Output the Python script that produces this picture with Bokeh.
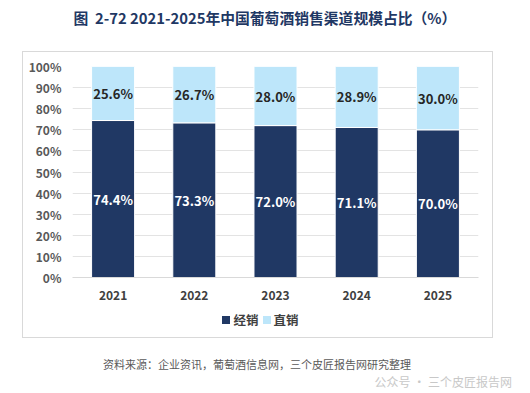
from bokeh.plotting import figure
from bokeh.models import (ColumnDataSource, FactorRange, NumeralTickFormatter, FixedTicker,
                          LabelSet, Div)
from bokeh.layouts import column
from bokeh.embed import file_html
from bokeh.resources import INLINE
from bokeh.core.properties import value

years = ["2021", "2022", "2023", "2024", "2025"]
jingxiao = [74.4, 73.3, 72.0, 71.1, 70.0]
zhixiao = [25.6, 26.7, 28.0, 28.9, 30.0]
series_names = ["经销", "直销"]
title_text = "图&nbsp;&nbsp;2-72 2021-2025年中国葡萄酒销售渠道规模占比（%）"
source_text = "资料来源：企业资讯，葡萄酒信息网，三个皮匠报告网研究整理"
mark_text = "公众号 · 三个皮匠报告网"

DARK = "#203864"
LIGHT = "#BDE6FA"
FONT = "Noto Sans CJK SC"
series_colors = [DARK, LIGHT]

W, H = 530, 393
BOX_L, BOX_R, BOX_T, BOX_B = 23, 492, 52, 337
FL, FR, FT, FB = 72, 478, 66, 277  # frame edges in page pixels
FIG_B = 305                         # bottom of the figure canvas

src = ColumnDataSource(dict(
    year=years,
    jx=[v / 100 for v in jingxiao],
    zx=[v / 100 for v in zhixiao],
    jx_mid=[v / 200 for v in jingxiao],
    zx_mid=[(j + z / 2) / 100 for j, z in zip(jingxiao, zhixiao)],
    jx_lbl=[f"{v:.1f}%" for v in jingxiao],
    zx_lbl=[f"{v:.1f}%" for v in zhixiao],
))

fw, fh = BOX_R - BOX_L, FIG_B - BOX_T
p = figure(width=fw, height=fh, x_range=FactorRange(*years), y_range=(0, 1.0),
           output_backend="svg", toolbar_location=None,
           min_border_left=FL - BOX_L, min_border_right=BOX_R - FR,
           min_border_top=FT - BOX_T, min_border_bottom=FIG_B - FB, margin=0)
p.outline_line_color = None
p.background_fill_color = "white"
p.border_fill_color = "white"
p.x_range.range_padding = 0

r = p.vbar_stack(["jx", "zx"], x="year", width=0.53, source=src,
                 color=series_colors, line_color="white", line_width=1)

p.add_layout(LabelSet(x="year", y="jx_mid", text="jx_lbl", source=src, text_align="center",
                      text_baseline="middle", text_color="white", text_font_size="13px",
                      text_font=value(FONT), text_font_style="bold"))
p.add_layout(LabelSet(x="year", y="zx_mid", text="zx_lbl", source=src, text_align="center",
                      text_baseline="middle", text_color="#262626", text_font_size="13px",
                      text_font=value(FONT), text_font_style="bold"))

p.yaxis.ticker = FixedTicker(ticks=[i / 10 for i in range(11)])
p.yaxis.formatter = NumeralTickFormatter(format="0%")
p.yaxis.axis_line_color = None
p.yaxis.major_tick_line_color = None
p.yaxis.minor_tick_line_color = None
p.yaxis.major_label_text_font = FONT
p.yaxis.major_label_text_font_size = "12px"
p.yaxis.major_label_text_color = "#595959"
p.yaxis.major_label_text_font_style = "bold"
p.yaxis.major_label_standoff = 5

p.xaxis.axis_line_color = "#d9d9d9"
p.xaxis.major_tick_line_color = None
p.xaxis.minor_tick_line_color = None
p.xaxis.major_label_text_font = FONT
p.xaxis.major_label_text_font_size = "12px"
p.xaxis.major_label_text_color = "#404040"
p.xaxis.major_label_text_font_style = "bold"
p.xaxis.major_label_standoff = 7

p.xgrid.grid_line_color = None
p.ygrid.grid_line_color = "#e3e3e3"
p.ygrid.grid_line_width = 1

# legend row (HTML), inside the bordered box
leg_items = "".join(
    f'<span style="display:inline-block;width:8px;height:8px;background:{c};'
    f'margin:0 3px 0 4px;vertical-align:middle;"></span>'
    f'<span style="vertical-align:middle;">{n}</span>'
    for n, c in zip(series_names, series_colors))
legend_div = Div(text=f'<div style="width:{fw}px;text-align:center;padding-left:2px;'
                      f'box-sizing:border-box;line-height:16px;padding-top:5px;">{leg_items}</div>',
                 width=fw, height=BOX_B - FIG_B, margin=0,
                 styles={"font-family": FONT, "font-size": "12.5px", "font-weight": "bold",
                         "color": "#404040"})

box = column(p, legend_div, spacing=0, margin=(0, 0, 0, BOX_L),
             styles={"outline": "1px solid #d9d9d9", "background": "white"})

title_div = Div(text=title_text, width=W, height=BOX_T, margin=0,
                styles={"font-family": FONT, "font-size": "14.8px", "font-weight": "bold",
                        "color": "#1F3864", "text-align": "center", "width": f"{W}px",
                        "line-height": "36px"})
foot_html = (f'<div style="position:relative;width:{W}px;height:{H - BOX_B}px;">'
             f'<div style="position:absolute;left:0;top:20px;width:514px;text-align:center;'
             f'font-size:11px;color:#595959;">{source_text}</div>'
             f'<div style="position:absolute;right:18px;top:36px;font-size:12px;'
             f'color:#c8c8c8;">{mark_text}</div></div>')
foot_div = Div(text=foot_html, width=W, height=H - BOX_B, margin=0,
               styles={"font-family": FONT})

layout = column(title_div, box, foot_div, spacing=0, margin=0)
open("out.html", "w").write(file_html(layout, INLINE))
